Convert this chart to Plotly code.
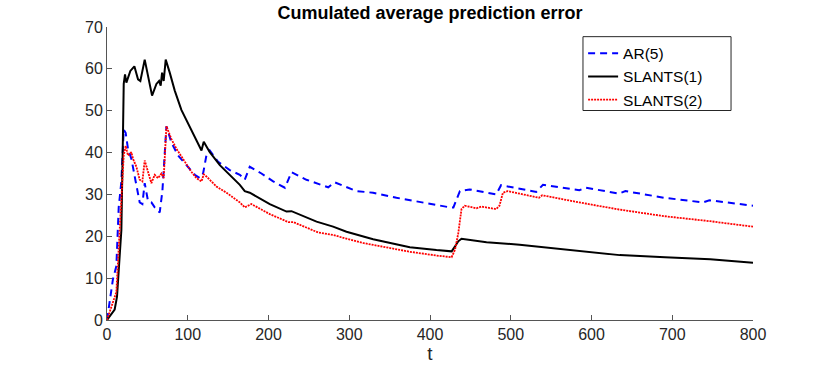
import plotly.graph_objects as go

# time index and values
t_ar = [0, 3.3, 7.4, 11.6, 14.5, 17.8, 20.7, 23.1, 26, 30.2,
        32.2, 35.5, 40.5, 43.8, 46.7, 50.8, 55, 59.1, 65.3, 68.6,
        73.6, 79.8, 88, 98.3, 108.7, 114.9, 119, 123.1, 127.3, 137.6,
        152, 164.5, 170.6, 176.8, 191.3, 205.8, 220.3, 228.5, 247, 274,
        282, 309, 329.6, 358.5, 383.3, 424.7, 429, 437, 449, 482,
        488, 511, 531.6, 539.9, 585, 593, 634, 642, 690, 738,
        746, 800]
ar5 = [0, 4.4, 9.8, 12.9, 26.9, 33.1, 45.5, 44.7, 40.9, 38.5,
       36.2, 33.1, 28.1, 27.7, 32.7, 28.4, 28.1, 26.9, 25.7, 30.8,
       46.3, 42.4, 39.3, 37, 34.7, 33.9, 35, 39.3, 40.5, 37.8,
       35.8, 34.7, 33.5, 36.6, 35, 33.1, 31.6, 35.3, 33.5, 31.7,
       32.9, 30.8, 30.4, 29.2, 28.3, 26.9, 26.9, 30.8, 31.2, 30,
       32.2, 31.4, 30.6, 32.3, 31, 31.6, 30.2, 30.8, 29.2, 28.1,
       28.6, 27.3]

t_s1 = [0, 9.5, 12.4, 17.8, 19.8, 20.7, 22.3, 24, 28.9, 33.9,
        38.4, 41.3, 46.7, 50.8, 55.8, 61.2, 64.5, 66.5, 68.2, 70.2,
        72.7, 77.7, 83.9, 92.1, 102.5, 110.7, 117, 119.8, 127.3, 139.7,
        152, 164.5, 170.6, 176.8, 201.6, 222.3, 228.5, 259.5, 280, 296.6,
        329.6, 375, 408, 426.8, 431, 435, 439, 470, 511, 540,
        635, 691, 747, 800]
slants1 = [0, 2.5, 5.6, 21.5, 44.7, 56.4, 58.7, 56.7, 59.5, 60.6,
           57.5, 57.1, 62.2, 58.3, 53.6, 56.4, 57.1, 56, 59.1, 57.1,
           62.2, 59.1, 54.8, 50.2, 46.3, 43.2, 40.5, 42.6, 40.1, 37,
           34.7, 32.3, 30.8, 30.4, 27.7, 25.9, 26, 23.5, 22.3, 21.1,
           19.3, 17.4, 16.7, 16.4, 17.6, 18.8, 19.4, 18.6, 18, 17.4,
           15.5, 15, 14.5, 13.7]

t_s2 = [0, 7.4, 11.6, 15.7, 19, 20.7, 23.1, 26, 30.2, 32.2,
        36.4, 40.5, 43.8, 46.7, 50.8, 55, 59.1, 63.2, 67.4, 70.2,
        73.6, 79.8, 86, 96.3, 104.5, 110.7, 117, 119.8, 123.1, 135.5,
        148, 164.5, 170.6, 178.8, 201.6, 224.4, 230.6, 261.6, 280, 317,
        375, 408, 426.8, 431, 435, 439, 443, 457.5, 463.6, 482,
        486, 490.3, 496, 535, 539, 584.6, 634, 690, 747, 800]
slants2 = [0, 4.4, 6.7, 21.5, 33.9, 39.3, 41.6, 39.3, 40.1, 38.5,
           36.6, 33.5, 33.1, 38.1, 35.4, 32.7, 34.7, 33.9, 35, 33.9,
           46.3, 43.2, 40.9, 37.8, 35.4, 33.9, 33.1, 34.8, 34.3, 31.9,
           30.4, 28.1, 26.9, 27.7, 25.3, 23.4, 23.4, 20.9, 20.3, 18.4,
           16.3, 15.4, 15, 16.8, 20.7, 26.5, 27.3, 26.7, 27.1, 26.5,
           27.3, 30.4, 30.8, 29.2, 29.8, 28.1, 26.4, 24.8, 23.6, 22.3]

x_ticks = [0, 100, 200, 300, 400, 500, 600, 700, 800]
y_ticks = [0, 10, 20, 30, 40, 50, 60, 70]

FONT = "Liberation Sans, Arial, sans-serif"

fig = go.Figure()
fig.add_trace(go.Scatter(x=t_ar, y=ar5, mode='lines', name='AR(5)',
                         line=dict(color='#0000ff', width=2, dash='7px,5px')))
fig.add_trace(go.Scatter(x=t_s1, y=slants1, mode='lines', name='SLANTS(1)',
                         line=dict(color='black', width=2)))
fig.add_trace(go.Scatter(x=t_s2, y=slants2, mode='lines', name='SLANTS(2)',
                         line=dict(color='#ff0000', width=1.8, dash='2px,1px')))

fig.update_layout(
    width=830, height=371,
    margin=dict(l=107, r=77, t=27, b=42),
    paper_bgcolor='white', plot_bgcolor='white',
    font=dict(family=FONT, size=16, color='#262626'),
    title=dict(text='<b>Cumulated average prediction error</b>', x=0.518, xanchor='center',
               y=0.967, yanchor='middle', font=dict(size=18, color='black')),
    legend=dict(x=0.737, y=0.967, xanchor='left', yanchor='top',
                borderwidth=0, bgcolor='rgba(0,0,0,0)',
                font=dict(size=15.5, color='black'), tracegroupgap=0),
    showlegend=True,
    # legend frame, wider than plotly's own box
    shapes=[dict(type='rect', xref='paper', yref='paper',
                 x0=0.7368, x1=0.966, y0=0.715, y1=0.967,
                 line=dict(color='#262626', width=1), fillcolor='white', layer='above')],
)

fig.update_xaxes(range=[0, 800], tickvals=x_ticks, ticks='inside', ticklen=5,
                 tickcolor='#555555', showline=True, linecolor='#555555', linewidth=1,
                 showgrid=False, zeroline=False, title=dict(text='t', standoff=2),
                 tickfont=dict(size=16))
fig.update_yaxes(range=[0, 70], tickvals=y_ticks, ticks='inside', ticklen=5,
                 tickcolor='#555555', showline=True, linecolor='#555555', linewidth=1,
                 showgrid=False, zeroline=False, tickfont=dict(size=16))

# drop the default body margin so the figure sits at the window's corner
fig.write_html("out.html", config={'displayModeBar': False},
               post_script="document.body.style.margin='0px';")
